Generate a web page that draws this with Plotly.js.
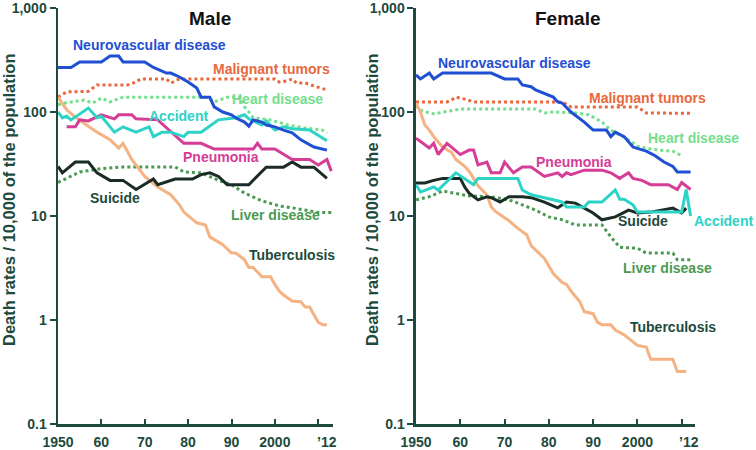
<!DOCTYPE html>
<html><head><meta charset="utf-8">
<script src="https://cdn.plot.ly/plotly-3.0.1.min.js"></script>
<style>html,body{margin:0;padding:0;background:#fff}#chart{width:756px;height:450px}</style>
</head><body><div id="chart"></div>
<script>
// ---------- Male (deaths per 10,000) ----------
const maleNeuroYears = [1950,1953,1955,1960,1962,1964,1965,1970,1972,1975,1976,1978,1980,1982,1983,1985,1986,1988,1990,1991,1993,1994,1995,1997,1998,2000,2002,2004,2006,2009,2012];
const maleNeuro      = [268,268,303,303,345,345,303,303,268,237,237,217,194,170,139,139,112,100,94,87.5,80,73,84,80,75,72,67,63,54,46,43];
const maleMaligYears = [1950,1952,1957,1959,1966,1968,1969,1975,1976,1978,2000,2001,2003,2004,2005,2007,2009,2012];
const maleMalig      = [139,156,158,182,182,194,208,208,190,208,208,194,200,208,190,190,178,163];
const maleHeartYears = [1950,1953,1956,1958,1960,1962,1965,1984,1986,1989,1992,1993,1994,1995,1999,2003,2007,2011,2012];
const maleHeart      = [118,125,130,122,136,125,139,139,125,139,139,112,100,88,84,75,70,67,63];
const maleAccYears   = [1950,1951,1952,1953,1957,1959,1960,1963,1965,1968,1971,1972,1974,1976,1979,1980,1983,1987,1991,1993,1994,1997,1998,2000,2002,2004,2008,2012];
const maleAcc        = [100,88,91,84,109,88,91,64,72,64,72,58,64,64,58,64,64,84,88,94,86,75,82,67,72,69,67,53];
const malePneuYears  = [1952,1954,1955,1957,1960,1963,1964,1967,1968,1973,1979,1983,1986,1995,1996,1997,2000,2002,2004,2008,2010,2012,2013];
const malePneu       = [72,72,84,82,94,86,94,94,86,84,50,50,44,44,50,44,44,39,35,35,31,35,27];
const maleSuiYears   = [1950,1951,1954,1957,1959,1962,1965,1968,1972,1973,1977,1981,1983,1985,1987,1989,1994,1998,2002,2004,2006,2009,2012];
const maleSui        = [30,26,33,33,26,22,22,18,22.7,20,22.7,22.7,25,26,24,20,20,29.5,29.5,33,29.5,29.5,23];
const maleLivYears   = [1950,1955,1960,1965,1977,1979,1983,1987,1990,1993,1997,2001,2004,2010,2013];
const maleLiv        = [21,26.5,28.5,29.6,29.6,26.5,26,22,20,16.6,14,12.5,12,10.8,10.8];
const maleTBYears    = [1950,1952,1954,1956,1959,1962,1964,1965,1967,1970,1973,1976,1978,1979,1982,1984,1985,1988,1990,1991,1993,1994,1995,1997,1999,2000,2001,2002,2004,2006,2007,2008,2009,2010,2011,2012];
const maleTB         = [139,105,89,78,64,54,45,50,35,24,19,16,12.8,10.9,8.6,8.2,6.3,5.3,4.4,4.4,3.8,3.2,3.2,2.6,2.6,2.2,1.9,1.74,1.52,1.5,1.33,1.33,1.14,0.95,0.9,0.9];

// ---------- Female ----------
const femNeuroYears = [1950,1951,1953,1954,1956,1967,1970,1973,1974,1976,1977,1979,1981,1982,1983,1985,1988,1990,1993,1994,1995,1997,1999,2002,2004,2006,2008,2009,2012];
const femNeuro      = [227,208,237,208,237,237,208,208,182,175,163,150,139,125,122,100,80,67,67,58,64,58,46,42,38,33,30,26.5,26.5];
const femMaligYears = [1950,1957,1958,1959,1961,1963,1983,1985,2000,2002,2012];
const femMalig      = [125,125,130,139,133,125,125,112,112,98,97];
const femHeartYears = [1950,1951,1953,1954,1958,1960,1977,1979,1981,1986,1989,1992,1994,1996,1998,2000,2003,2005,2008,2010];
const femHeart      = [115,104,98,96,103,107,107,98,100,98,94,80,67,60,54,47,44,43,42,38];
const femAccYears   = [1950,1951,1954,1955,1959,1961,1963,1964,1973,1974,1976,1982,1983,1984,1988,1989,1992,1995,1996,1997,1999,2000,2010,2011,2012];
const femAcc        = [20,17,19,17.8,26,23,20,23,23,17.8,16,14,13.6,12.2,12.2,13.6,13.6,17.8,14.5,14.5,12.8,10.9,10.9,18,10];
const femPneuYears  = [1950,1952,1953,1954,1955,1957,1960,1962,1963,1964,1966,1967,1969,1970,1972,1974,1976,1979,1982,1983,1984,1985,1988,1992,1994,1996,1998,1999,2001,2003,2007,2009,2010,2012];
const femPneu       = [56,48,45,50,39,50,39,43,43,31,33,26,26,33,26,29.6,29.6,24,26,24,26,25,27.6,27.6,26,23,26,23,22,20,20,18,21,18];
const femSuiYears   = [1950,1952,1954,1956,1960,1961,1962,1964,1966,1967,1969,1971,1974,1976,1979,1982,1984,1986,1988,1990,1992,1995,1998,2000,2003,2006,2008,2010,2011];
const femSui        = [20.8,20.8,22,23,23,19,16.6,14.3,15.3,15,13.6,15.3,15.3,15,13.6,12,13.6,13.3,11.9,10.7,9.2,9.8,11.4,10.7,10.9,11.4,11.9,10.7,11.9];
const femLivYears   = [1950,1953,1956,1959,1962,1967,1971,1973,1977,1980,1983,1986,1992,1994,1996,2000,2002,2008,2009,2012];
const femLiv        = [14.3,15.3,17.4,16.6,15.6,15.3,14.3,13.3,11.4,9.8,9.2,8.2,8.2,6.3,5.0,4.9,4.4,4.4,3.8,3.8];
const femTBYears    = [1950,1951,1952,1953,1954,1955,1956,1958,1959,1961,1962,1963,1964,1966,1967,1968,1971,1973,1975,1976,1979,1981,1983,1984,1985,1987,1988,1990,1991,1992,1994,1995,1997,2000,2002,2003,2008,2009,2011];
const femTB         = [122,100,75,67,58,52,46,41,35,30,27,23,19.5,16,12.2,11,9,7.6,6.6,5.2,3.9,2.8,2.3,2.2,1.9,1.5,1.2,1.15,0.95,0.9,0.9,0.8,0.72,0.57,0.55,0.42,0.42,0.32,0.32];

// ---------- Axis ticks & labels ----------
const xTickVals = [1950,1960,1970,1980,1990,2000,2010];
const xTickText = ['1950','60','70','80','90','2000',''];
const lastYearLabel = '\u201912';
const yTickVals = [0.1,1,10,100,1000];
const yTickText = ['0.1','1','10','100','1,000'];
const yTitle = 'Death rates / 10,000 of the population';
const panelTitles = ['Male','Female'];

const C = {
  neuro:'#1f4fd2', malig:'#e9683b', heart:'#74de8c', acc:'#2dd3c6',
  pneu:'#d53d97', sui:'#1b2b25', liv:'#4b9a51', tb:'#f5b283', axis:'#1d4a3c'
};
const FONT = 'Liberation Sans, Arial, sans-serif';

function tr(x, y, color, dash, ax){
  return {x:x, y:y, type:'scatter', mode:'lines', xaxis:ax[0], yaxis:ax[1],
    line:{color:color, width:3, dash:dash||'solid'}, hoverinfo:'skip'};
}
const L = ['x','y'], R = ['x2','y2'];
const data = [
  tr(maleLivYears, maleLiv, C.liv, 'dot', L),
  tr(maleHeartYears, maleHeart, C.heart, 'dot', L),
  tr(maleMaligYears, maleMalig, C.malig, 'dot', L),
  tr(maleTBYears, maleTB, C.tb, null, L),
  tr(maleSuiYears, maleSui, C.sui, null, L),
  tr(malePneuYears, malePneu, C.pneu, null, L),
  tr(maleAccYears, maleAcc, C.acc, null, L),
  tr(maleNeuroYears, maleNeuro, C.neuro, null, L),
  tr(femLivYears, femLiv, C.liv, 'dot', R),
  tr(femHeartYears, femHeart, C.heart, 'dot', R),
  tr(femMaligYears, femMalig, C.malig, 'dot', R),
  tr(femTBYears, femTB, C.tb, null, R),
  tr(femSuiYears, femSui, C.sui, null, R),
  tr(femPneuYears, femPneu, C.pneu, null, R),
  tr(femAccYears, femAcc, C.acc, null, R),
  tr(femNeuroYears, femNeuro, C.neuro, null, R)
];

const tickFont = {family:FONT, size:14, color:C.axis, weight:'bold'};
function xax(domain, range){
  return {domain:domain, range:range, showgrid:false, zeroline:false, showline:true,
    linecolor:C.axis, linewidth:2.5, ticks:'inside', ticklen:5, tickwidth:2, tickcolor:C.axis,
    ticklabelstandoff:4, ticklabeloverflow:'allow',
    tickvals:xTickVals, ticktext:xTickText, tickfont:tickFont, fixedrange:true};
}
function yax(anchor){
  return {type:'log', range:[-1,3], domain:[0,1], anchor:anchor, showgrid:false, zeroline:false,
    showline:true, linecolor:C.axis, linewidth:2.5, ticks:'outside', ticklen:6, tickwidth:2,
    ticklabeloverflow:'allow',
    tickcolor:C.axis, tickvals:yTickVals, ticktext:yTickText, tickfont:tickFont, fixedrange:true};
}
function lab(text, x, y, color, size){
  return {text:text, x:x, y:y, xref:'paper', yref:'paper', showarrow:false,
    xanchor:'center', yanchor:'middle', font:{family:FONT, size:size||14, color:color, weight:'bold'}};
}
const annotations = [
  lab(panelTitles[0], 0.2386, 0.9736, '#111111', 19),
  lab(panelTitles[1], 0.7991, 0.9736, '#111111', 19),
  lab('Neurovascular disease', 0.1444, 0.911, C.neuro),
  lab('Malignant tumors', 0.3359, 0.8534, C.malig),
  lab('Heart disease', 0.3438, 0.7812, C.heart),
  lab('Accident', 0.1884, 0.7404, C.acc),
  lab('Pneumonia', 0.2559, 0.6418, C.pneu),
  lab('Suicide', 0.0895, 0.5433, C.axis),
  lab('Liver disease', 0.3407, 0.5024, C.liv),
  lab('Tuberculosis', 0.3673, 0.4063, C.axis),
  lab('Neurovascular disease', 0.7159, 0.8678, C.neuro),
  lab('Malignant tumors', 0.9262, 0.7837, C.malig),
  lab('Heart disease', 0.9984, 0.6875, C.heart),
  lab('Pneumonia', 0.8100, 0.6298, C.pneu),
  lab('Suicide', 0.9184, 0.4880, C.axis),
  lab('Accident', 1.0455, 0.4880, C.acc),
  lab('Liver disease', 0.9576, 0.375, C.liv),
  lab('Tuberculosis', 0.9655, 0.2332, C.axis),
  lab(lastYearLabel, 0.4223, -0.0433, C.axis),
  lab(lastYearLabel, 0.9906, -0.0433, C.axis),
  Object.assign(lab(yTitle, -0.0769, 0.5385, C.axis, 16.5), {textangle:-90}),
  Object.assign(lab(yTitle, 0.4929, 0.5385, C.axis, 16.5), {textangle:-90})
];

const layout = {
  width:756, height:450, margin:{l:58, r:61, t:8, b:26},
  paper_bgcolor:'#ffffff', plot_bgcolor:'#ffffff', showlegend:false,
  font:{family:FONT},
  xaxis: Object.assign(xax([0,0.4317],[1950,2013.4]), {anchor:'y'}),
  xaxis2: Object.assign(xax([0.562,1],[1950,2013]), {anchor:'y2'}),
  yaxis: yax('x'),
  yaxis2: yax('x2'),
  annotations: annotations
};
Plotly.newPlot('chart', data, layout, {displayModeBar:false, staticPlot:true});
</script></body></html>
